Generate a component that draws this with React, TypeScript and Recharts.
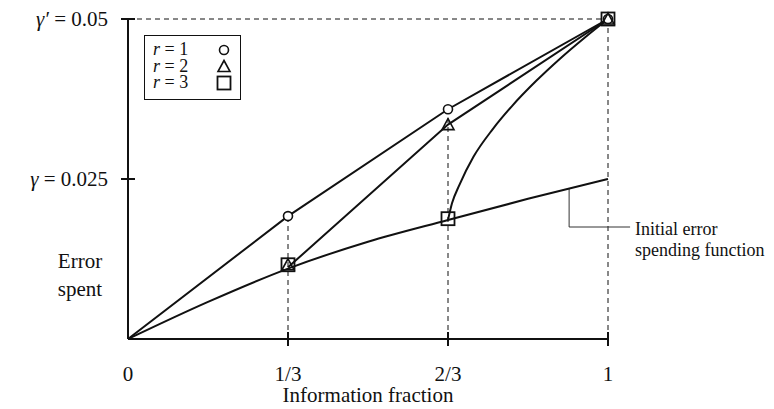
import { ComposedChart, Line, Scatter, XAxis, YAxis, ReferenceLine, Legend, Label } from "recharts";

const FONT = '"Liberation Serif", "DejaVu Serif", serif';
const INK = "#111";

// axis ticks
const xTicks = [0, 1 / 3, 2 / 3, 1];
const xTickLabels = ["0", "1/3", "2/3", "1"];
const yTicks = [0.025, 0.05];
const yTickSymbols = ["γ", "γ′"];
const yTickValues = ["0.025", "0.05"];

// initial error spending function
const initialT = [0, 1 / 6, 1 / 3, 1 / 2, 2 / 3, 5 / 6, 1];
const initialV = [0, 0.0058, 0.011, 0.0152, 0.0186, 0.0219, 0.025];

// revised spending paths
const r1T = [0, 1 / 3, 2 / 3, 1];
const r1V = [0, 0.0192, 0.0359, 0.05];
const r2T = [1 / 3, 2 / 3, 1];
const r2V = [0.0112, 0.0335, 0.05];
const r3T = [2 / 3, 0.675, 0.69, 0.72, 0.76, 0.8, 0.85, 0.9, 0.95, 1];
const r3V = [0.0186, 0.0212, 0.024, 0.0285, 0.0328, 0.0364, 0.0403, 0.0438, 0.047, 0.05];

// markers at the analyses
const lookT = [1 / 3, 2 / 3, 1];
const r1Marks = [0.0192, 0.0359, 0.05];
const r2Marks = [0.0116, 0.0335, 0.05];
const r3Marks = [0.0116, 0.0188, 0.05];

const legendNames = ["r = 1", "r = 2", "r = 3"];

// annotation leader
const leaderT = 0.919;
const leaderTop = 0.0235;
const leaderY = 0.0175;
const leaderEnd = 1.046;

const zip = (ts: number[], vs: number[]) => ts.map((t, i) => ({ t, v: vs[i] }));

const initialData = zip(initialT, initialV);
const r1Data = zip(r1T, r1V);
const r2Data = zip(r2T, r2V);
const r3Data = zip(r3T, r3V);

const circleShape = (p: any) => (
  <circle cx={p.cx} cy={p.cy} r={4.5} fill="#fff" stroke={INK} strokeWidth={1.6} />
);
const triangleShape = (p: any) => (
  <path
    d={`M${p.cx},${p.cy - 6} L${p.cx + 6},${p.cy + 5} L${p.cx - 6},${p.cy + 5} Z`}
    fill="none"
    stroke={INK}
    strokeWidth={1.6}
  />
);
const squareShape = (p: any) => (
  <rect x={p.cx - 6.5} y={p.cy - 6.5} width={13} height={13} fill="none" stroke={INK} strokeWidth={1.8} />
);

const findIdx = (arr: number[], v: number) => arr.findIndex((a) => Math.abs(a - v) < 1e-6);

function XTick(props: any) {
  const { x, y, payload } = props;
  const i = findIdx(xTicks, payload.value);
  return (
    <g>
      {payload.value > 0 && <line x1={x} x2={x} y1={y - 7} y2={y + 7} stroke={INK} strokeWidth={2} />}
      <text x={x} y={y + 42} textAnchor="middle" fontFamily={FONT} fontSize={21} fill={INK}>
        {xTickLabels[i]}
      </text>
    </g>
  );
}

function YTick(props: any) {
  const { x, y, payload } = props;
  const i = findIdx(yTicks, payload.value);
  return (
    <g>
      <line x1={x - 7} x2={x + 7} y1={y} y2={y} stroke={INK} strokeWidth={2} />
      <text x={x - 20} y={y + 7} textAnchor="end" fontFamily={FONT} fontSize={21} fill={INK} style={{ whiteSpace: "pre" }}>
        <tspan fontStyle="italic">{yTickSymbols[i]}</tspan>
        <tspan>{" = " + yTickValues[i]}</tspan>
      </text>
    </g>
  );
}

const symbolFor = [circleShape, triangleShape, squareShape];

const renderLegend = () => (
  <svg width={98} height={66} style={{ display: "block" }}>
    <rect x={0.5} y={0.5} width={96} height={64} fill="#fff" stroke={INK} strokeWidth={1} />
    {legendNames.map((name, i) => {
      const parts = name.split(" ");
      return (
        <g key={name}>
          <text x={9} y={20 + i * 16.5} fontFamily={FONT} fontSize={18} fill={INK} style={{ whiteSpace: "pre" }}>
            <tspan fontStyle="italic">{parts[0]}</tspan>
            <tspan>{" = " + parts[2]}</tspan>
          </text>
          {symbolFor[i]({ cx: 80, cy: 15 + i * 16.5 })}
        </g>
      );
    })}
  </svg>
);

const AnnotationLabel = (props: any) => {
  const vb = props.viewBox || { x: 0, y: 0, width: 0 };
  const x = vb.x + vb.width + 5;
  const y = vb.y;
  return (
    <text fontFamily={FONT} fontSize={18} fill={INK}>
      <tspan x={x} y={y + 8}>Initial error</tspan>
      <tspan x={x} y={y + 29}>spending function</tspan>
    </text>
  );
};

const ErrorSpentLabel = (props: any) => {
  const vb = props.viewBox || { x: 0, y: 11 };
  return (
    <text fontFamily={FONT} fontSize={21} fill={INK} textAnchor="middle">
      <tspan x={vb.x + 72} y={vb.y + 249}>Error</tspan>
      <tspan x={vb.x + 72} y={vb.y + 277}>spent</tspan>
    </text>
  );
};

export default function App() {
  return (
    <div style={{ position: "relative", width: 758, height: 400 }}>
      <ComposedChart width={758} height={400} margin={{ top: 11, right: 158, bottom: 0, left: 0 }}>
        <XAxis
          type="number"
          dataKey="t"
          domain={[0, 1]}
          ticks={xTicks}
          interval={0}
          height={69}
          stroke={INK}
          strokeWidth={2}
          tickLine={false}
          tickSize={0}
          tickMargin={0}
          tick={<XTick />}
        >
          <Label value="Information fraction" position="insideBottom" offset={6} fontFamily={FONT} fontSize={21} fill={INK} />
        </XAxis>
        <YAxis
          type="number"
          dataKey="v"
          domain={[0, 0.05]}
          ticks={yTicks}
          interval={0}
          width={120}
          stroke={INK}
          strokeWidth={2}
          tickLine={false}
          tickSize={0}
          tickMargin={0}
          tick={<YTick />}
        >
          <Label content={<ErrorSpentLabel />} />
        </YAxis>

        {/* dashed guides */}
        <ReferenceLine segment={[{ x: 0, y: 0.05 }, { x: 1, y: 0.05 }]} stroke={INK} strokeWidth={1} strokeDasharray="5 4" />
        {lookT.map((t, i) => (
          <ReferenceLine
            key={t}
            segment={[{ x: t, y: 0 }, { x: t, y: r1Marks[i] }]}
            stroke={INK}
            strokeWidth={1}
            strokeDasharray="5 4"
          />
        ))}

        {/* leader to annotation */}
        <ReferenceLine segment={[{ x: leaderT, y: leaderTop }, { x: leaderT, y: leaderY }]} stroke="#333" strokeWidth={1} ifOverflow="visible" />
        <ReferenceLine
          segment={[{ x: leaderT, y: leaderY }, { x: leaderEnd, y: leaderY }]}
          stroke="#333"
          strokeWidth={1}
          ifOverflow="visible"
          label={<AnnotationLabel />}
        />

        <Line data={initialData} dataKey="v" type="monotone" stroke={INK} strokeWidth={2} dot={false} isAnimationActive={false} />
        <Line data={r1Data} dataKey="v" type="linear" stroke={INK} strokeWidth={2} dot={false} isAnimationActive={false} />
        <Line data={r2Data} dataKey="v" type="linear" stroke={INK} strokeWidth={2} dot={false} isAnimationActive={false} />
        <Line data={r3Data} dataKey="v" type="monotone" stroke={INK} strokeWidth={2} dot={false} isAnimationActive={false} />

        <Scatter name="r = 1" data={zip(lookT, r1Marks)} dataKey="v" shape={circleShape} isAnimationActive={false} />
        <Scatter name="r = 2" data={zip(lookT, r2Marks)} dataKey="v" shape={triangleShape} isAnimationActive={false} />
        <Scatter name="r = 3" data={zip(lookT, r3Marks)} dataKey="v" shape={squareShape} isAnimationActive={false} />

        <Legend
          layout="vertical"
          align="center"
          verticalAlign="middle"
          content={renderLegend}
          wrapperStyle={{ position: "absolute", left: 136, top: 27, bottom: "auto", right: "auto", width: 98, height: 66 }}
        />
      </ComposedChart>
    </div>
  );
}
